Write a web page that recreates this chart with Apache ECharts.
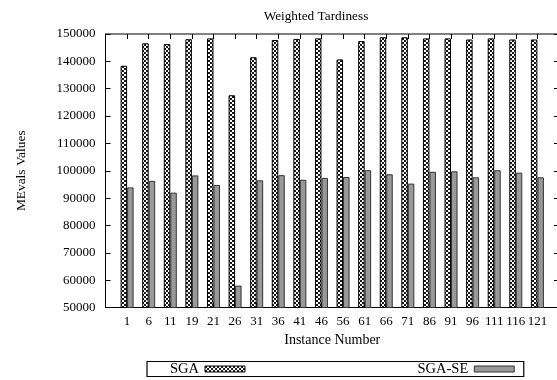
<!DOCTYPE html>
<html>
<head>
<meta charset="utf-8">
<script src="https://cdn.jsdelivr.net/npm/echarts@6/dist/echarts.min.js"></script>
<style>html,body{margin:0;padding:0;background:#fff}#c{width:557px;height:380px}</style>
</head>
<body>
<div id="c"></div>
<script>
const categories = ['1','6','11','19','21','26','31','36','41','46','56','61','66','71','86','91','96','111','116','121'];
const sgaValues = [138400,146600,146300,148100,148400,127600,141500,147800,148200,148400,140700,147400,148800,148800,148400,148400,148000,148400,148000,148000];
const sgaSeValues = [93900,96300,92000,98300,94800,58000,96500,98400,96700,97400,97700,100200,98700,95300,99600,99800,97600,100200,99300,97600];
const yTicks = {min: 50000, max: 150000, interval: 10000};

// checkered pattern
const pc = document.createElement('canvas');
pc.width = 4; pc.height = 4;
const g = pc.getContext('2d');
g.fillStyle = '#ffffff'; g.fillRect(0,0,4,4);
g.fillStyle = '#1a1a1a'; g.fillRect(0,0,2,2); g.fillRect(2,2,2,2);
const pattern = {image: pc, repeat: 'repeat'};

const cats = [''].concat(categories, ['']);
const sga = [null].concat(sgaValues, [null]);
const sgaSe = [null].concat(sgaSeValues, [null]);

const font = 'Liberation Serif';
const chart = echarts.init(document.getElementById('c'), null, {renderer: 'canvas'});
chart.setOption({
  animation: false,
  backgroundColor: '#fff',
  textStyle: {fontFamily: font, color: '#000'},
  title: {
    text: 'Weighted Tardiness', left: 311, top: 5, textAlign: 'center',
    textStyle: {fontFamily: font, fontSize: 13.3, fontWeight: 'normal', color: '#000'}
  },
  grid: {left: 105.5, top: 34, right: -2, bottom: 72.5, show: true, borderColor: '#000', borderWidth: 1, outerBoundsMode: 'none', containLabel: false},
  legend: {
    left: 147, top: 361.5, align: 'right', itemWidth: 40, itemHeight: 6, itemGap: 172,
    icon: 'rect',
    padding: [0, 9, 0, 23], borderColor: '#000', borderWidth: 1.2,
    textStyle: {fontFamily: font, fontSize: 14.5, color: '#000', padding: [0, 1, 0, 0]},
    data: [
      {name: 'SGA', itemStyle: {color: pattern, borderColor: '#000', borderWidth: 1}},
      {name: 'SGA-SE', itemStyle: {color: '#999', borderColor: '#333', borderWidth: 1}}
    ]
  },
  xAxis: [{
    type: 'category', data: cats, boundaryGap: false,
    name: 'Instance Number', nameLocation: 'middle', nameGap: 18,
    nameTextStyle: {fontFamily: font, fontSize: 14, color: '#000'},
    axisLine: {lineStyle: {color: '#000', width: 1}},
    axisTick: {inside: true, length: 5, alignWithLabel: true, lineStyle: {color: '#000'}, interval: 0},
    axisLabel: {fontFamily: font, fontSize: 13, color: '#000', margin: 8, interval: 0},
    splitLine: {show: false}
  }, {
    type: 'category', data: cats, boundaryGap: false, position: 'top',
    axisLine: {show: false},
    axisTick: {inside: true, length: 5, lineStyle: {color: '#000'}, interval: 0},
    axisLabel: {show: false}, splitLine: {show: false}
  }],
  yAxis: [{
    type: 'value', min: yTicks.min, max: yTicks.max, interval: yTicks.interval,
    name: 'MEvals Values', nameLocation: 'middle', nameGap: 78, nameRotate: 90,
    nameTextStyle: {fontFamily: font, fontSize: 13.4, color: '#000'},
    axisLine: {show: true, lineStyle: {color: '#000', width: 1}},
    axisTick: {show: true, inside: true, length: 5, lineStyle: {color: '#000'}},
    axisLabel: {fontFamily: font, fontSize: 13, color: '#000', margin: 10, formatter: v => String(v)},
    splitLine: {show: false}
  }, {
    type: 'value', min: yTicks.min, max: yTicks.max, interval: yTicks.interval, position: 'right',
    axisLine: {show: false},
    axisTick: {show: true, inside: true, length: 5, lineStyle: {color: '#000'}},
    axisLabel: {show: false}, splitLine: {show: false}
  }],
  series: [{
    name: 'SGA', type: 'bar', data: sga, barWidth: 6.5, barGap: '0%',
    itemStyle: {color: pattern, borderColor: '#000', borderWidth: 1}
  }, {
    name: 'SGA-SE', type: 'bar', data: sgaSe, barWidth: 6.5, barGap: '0%',
    itemStyle: {color: '#999', borderColor: '#333', borderWidth: 1}
  }]
});
</script>
</body>
</html>
